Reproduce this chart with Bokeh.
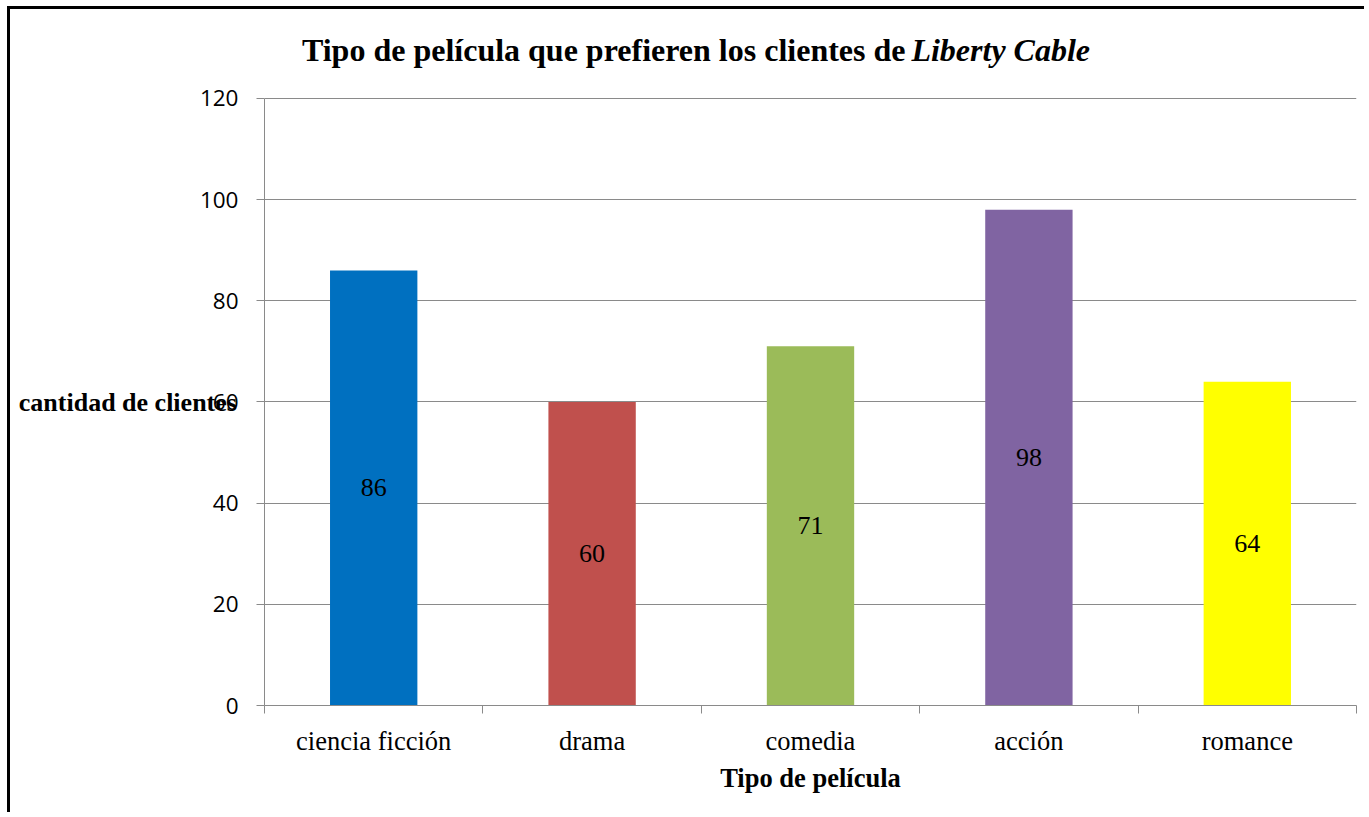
from bokeh.plotting import figure
from bokeh.models import Range1d, FixedTicker, ColumnDataSource
from bokeh.core.properties import value
from bokeh.embed import file_html
from bokeh.resources import INLINE

categories = ["ciencia ficción", "drama", "comedia", "acción", "romance"]
clientes = [86, 60, 71, 98, 64]
colors = ["#0070C0", "#C0504D", "#9BBB59", "#8064A2", "#FFFF00"]
y_ticks = [0, 20, 40, 60, 80, 100, 120]
title_main = "Tipo de película que prefieren los clientes de"
title_italic = "Liberty Cable"

n = len(categories)
centers = [i + 0.5 for i in range(n)]
bounds = list(range(n + 1))

src = ColumnDataSource(dict(x=centers, top=clientes, color=colors,
                            mid=[v / 2 for v in clientes],
                            lab=[str(v) for v in clientes]))

# frame extends above the value axis so the title lives inside it
Y_TOP = 135.4
TITLE_Y = 129.5

p = figure(width=1357, height=806, output_backend="svg", toolbar_location=None,
           x_range=Range1d(0, n), y_range=Range1d(0, Y_TOP),
           min_border_left=254, min_border_right=11, min_border_top=11,
           min_border_bottom=110)
p.styles = {"margin-left": "7px", "margin-top": "6px",
            "border-left": "3px solid black", "border-top": "3px solid black"}
p.outline_line_color = None
p.background_fill_color = "white"
p.border_fill_color = "white"

p.vbar(x="x", top="top", width=0.4, color="color", source=src, line_color=None)
p.text(x="x", y="mid", text="lab", source=src, text_align="center",
       text_baseline="middle", text_font=value("Liberation Serif"),
       text_font_size="26px", text_color="black")

# title (bold + bold italic)
p.text(x=[2.935], y=[TITLE_Y], text=[title_main], text_align="right",
       text_baseline="middle", text_font=value("Liberation Serif"),
       text_font_style="bold", text_font_size="32px", text_color="black")
p.text(x=[2.962], y=[TITLE_Y], text=[title_italic], text_align="left",
       text_baseline="middle", text_font=value("Liberation Serif"),
       text_font_style="bold italic", text_font_size="32px", text_color="black")

gray = "#8A8A8A"
# y axis
p.yaxis.bounds = (0, 120)
p.yaxis.ticker = FixedTicker(ticks=y_ticks)
p.yaxis.axis_line_color = gray
p.yaxis.major_tick_line_color = gray
p.yaxis.major_tick_out = 8
p.yaxis.major_tick_in = 0
p.yaxis.minor_tick_line_color = None
p.yaxis.major_label_standoff = 18
p.yaxis.major_label_text_font = "Open Sans"
p.yaxis.major_label_text_font_size = "22.5px"
p.yaxis.major_label_text_color = "black"
p.yaxis.axis_label = "\n\ncantidad de clientes"
p.yaxis.axis_label_orientation = "horizontal"
p.yaxis.axis_label_text_font = "Liberation Serif"
p.yaxis.axis_label_text_font_style = "bold"
p.yaxis.axis_label_text_font_size = "26px"
p.yaxis.axis_label_text_line_height = 1.35
p.yaxis.axis_label_text_color = "black"
p.yaxis.axis_label_standoff = -40

# x axis
p.xaxis.ticker = FixedTicker(ticks=centers, minor_ticks=bounds)
p.xaxis.major_label_overrides = {c: lab for c, lab in zip(centers, categories)}
p.xaxis.axis_line_color = gray
p.xaxis.major_tick_line_color = None
p.xaxis.major_tick_out = 0
p.xaxis.major_tick_in = 0
p.xaxis.minor_tick_line_color = gray
p.xaxis.minor_tick_out = 8
p.xaxis.minor_tick_in = 0
p.xaxis.major_label_standoff = 12
p.xaxis.major_label_text_font = "Liberation Serif"
p.xaxis.major_label_text_font_size = "26.5px"
p.xaxis.major_label_text_color = "black"
p.xaxis.axis_label = "Tipo de película"
p.xaxis.axis_label_text_font = "Liberation Serif"
p.xaxis.axis_label_text_font_style = "bold"
p.xaxis.axis_label_text_font_size = "26.5px"
p.xaxis.axis_label_text_color = "black"
p.xaxis.axis_label_standoff = 4

p.xgrid.grid_line_color = None
p.ygrid.ticker = FixedTicker(ticks=y_ticks)
p.ygrid.grid_line_color = gray
p.ygrid.grid_line_width = 1

open("out.html", "w").write(file_html(p, INLINE))
